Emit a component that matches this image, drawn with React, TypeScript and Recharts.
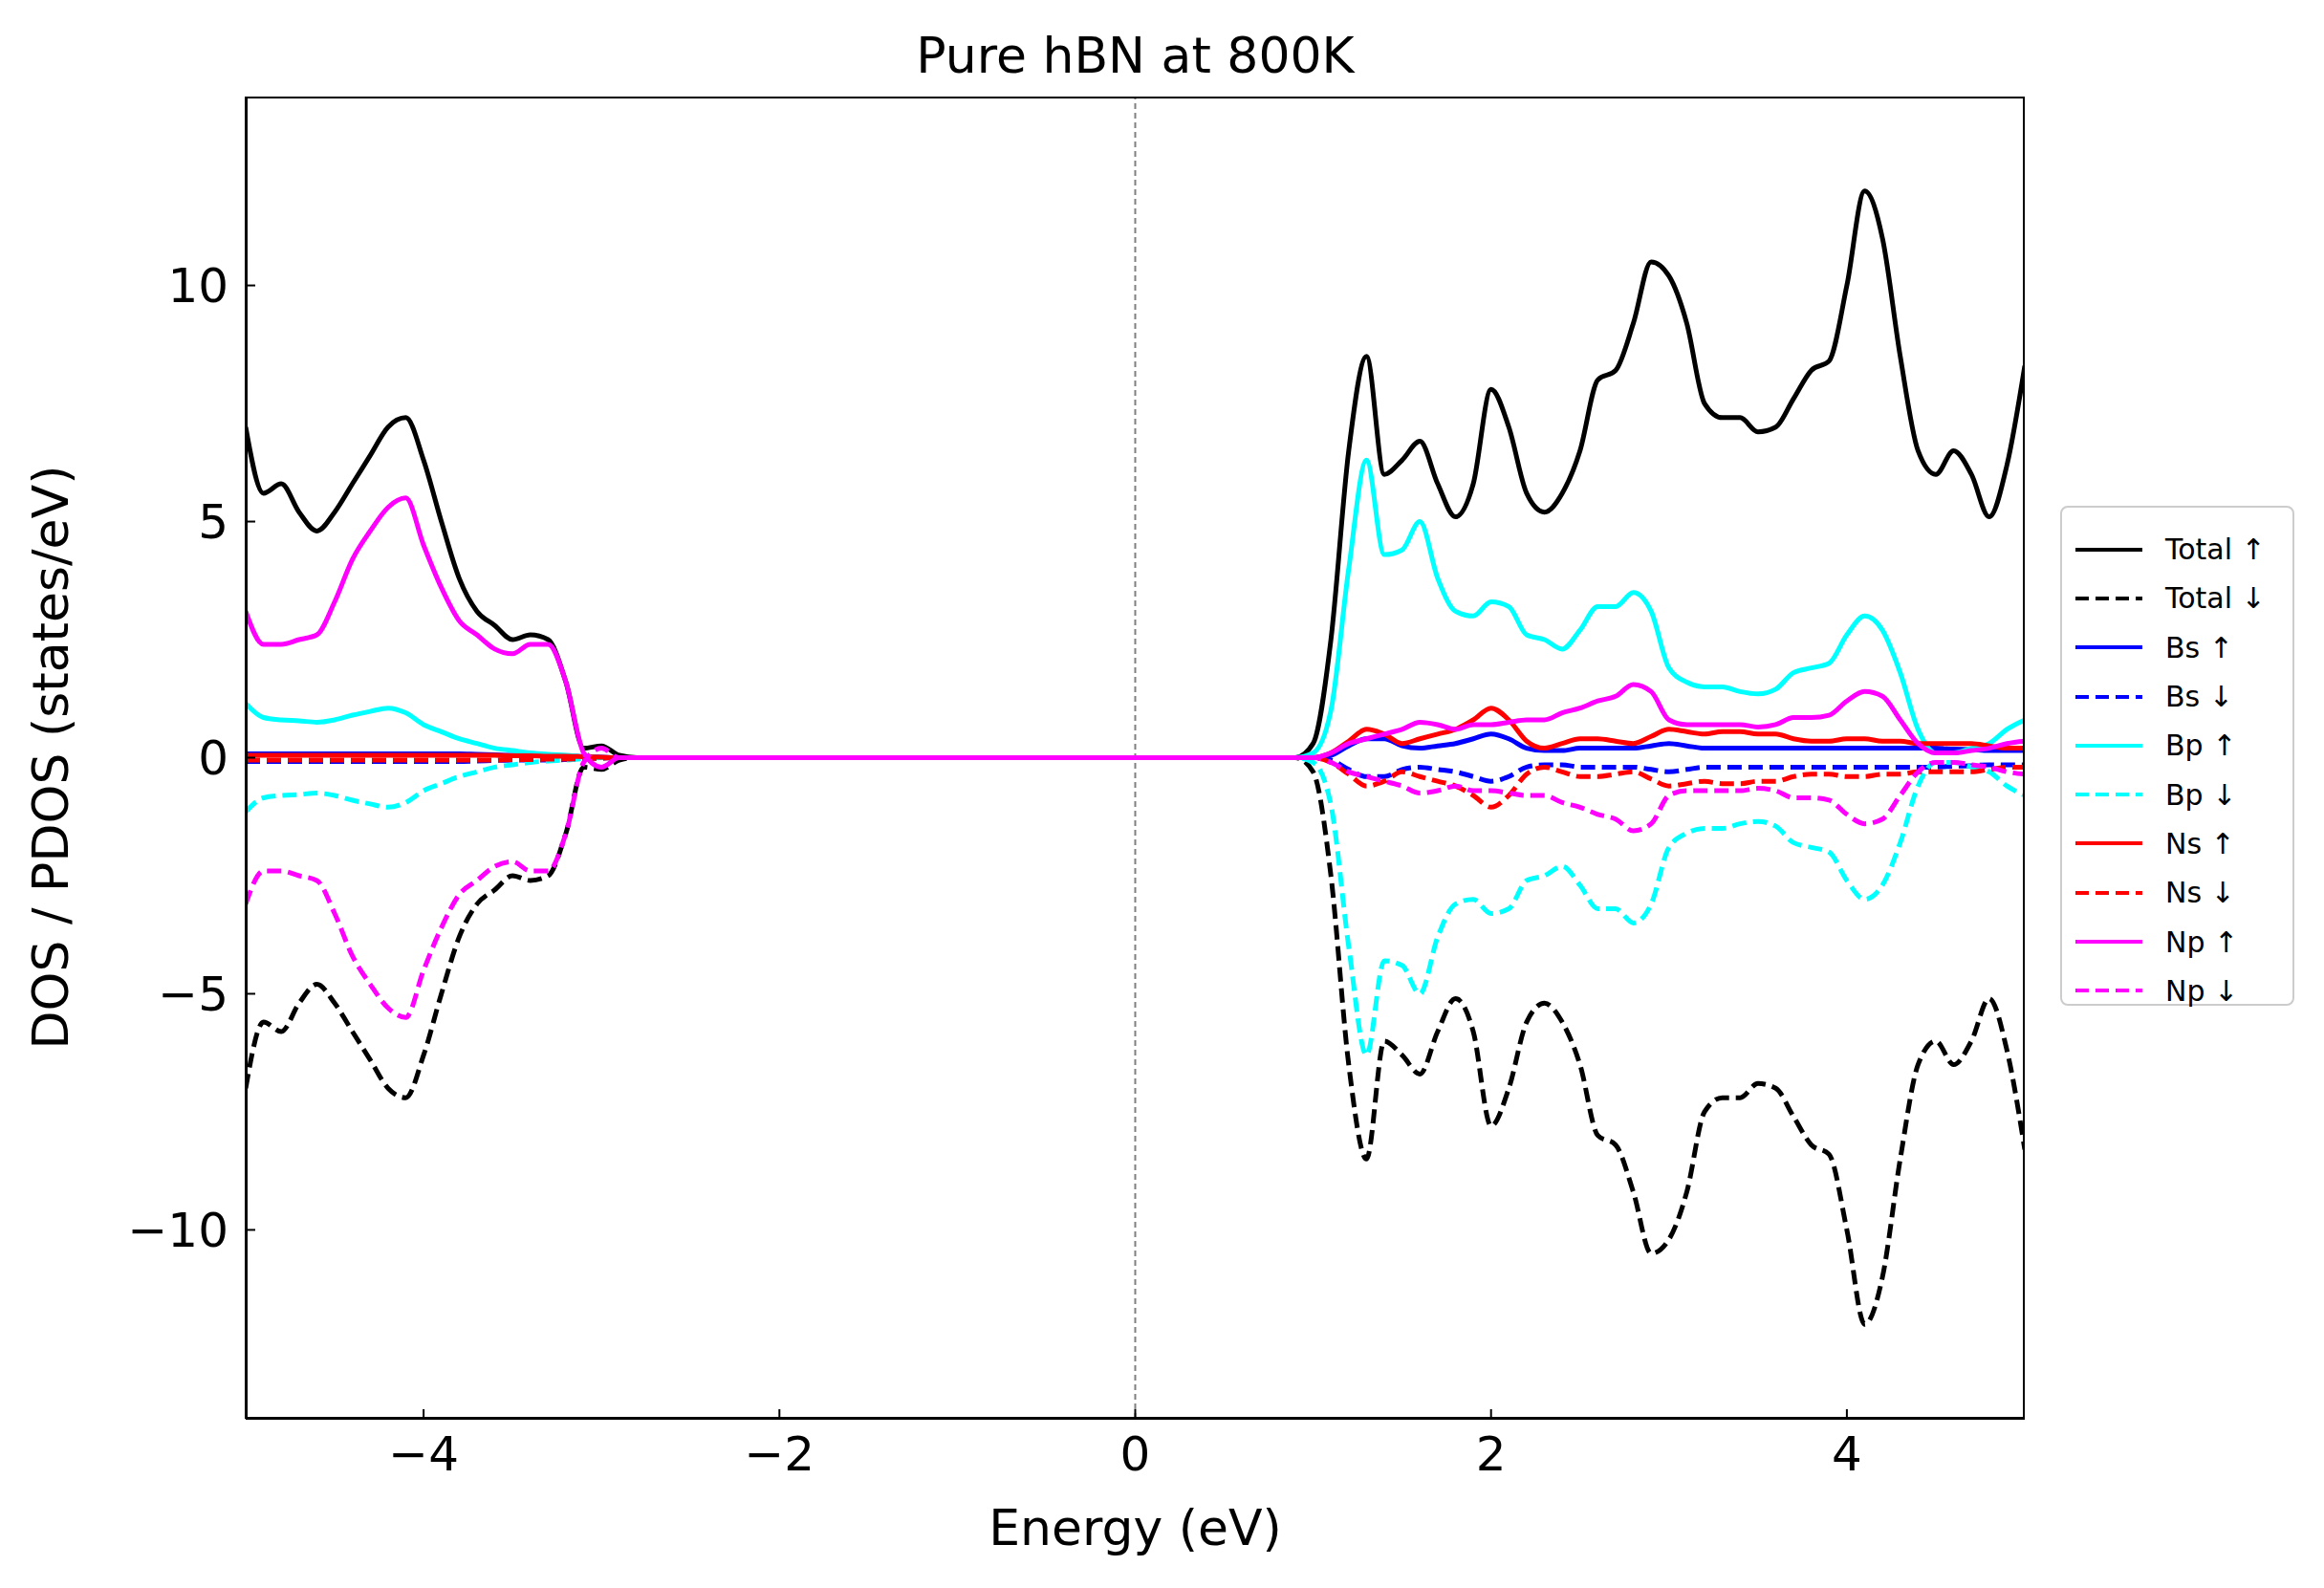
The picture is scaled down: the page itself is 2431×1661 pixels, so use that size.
import { LineChart, Line, XAxis, YAxis, ReferenceLine } from "recharts";

const energy = [
  -5.0, -4.9, -4.8, -4.7, -4.6, -4.5, -4.4, -4.3, -4.2, -4.1, -4.0, -3.9, -3.8, -3.7, -3.6, -3.5,
  -3.4, -3.3, -3.2, -3.1, -3.0, -2.9, -2.8, -2.0, -1.0, 0.0, 0.5, 0.9,
  1.0, 1.1, 1.2, 1.3, 1.4, 1.5, 1.6, 1.7, 1.8, 1.9, 2.0, 2.1, 2.2, 2.3, 2.4, 2.5, 2.6, 2.7, 2.8,
  2.9, 3.0, 3.1, 3.2, 3.3, 3.4, 3.5, 3.6, 3.7, 3.8, 3.9, 4.0, 4.1, 4.2, 4.3, 4.4, 4.5, 4.6, 4.7,
  4.8, 4.9, 5.0,
];

const totalUp = [
  7.0, 5.6, 5.8, 5.2, 4.8, 5.2, 5.8, 6.4, 7.0, 7.2, 6.3, 5.0, 3.8, 3.1, 2.8, 2.5,
  2.6, 2.5, 1.6, 0.2, 0.25, 0.05, 0, 0, 0, 0, 0, 0,
  0.3, 2.5, 6.5, 8.5, 6.0, 6.3, 6.7, 5.8, 5.1, 5.8, 7.8, 7.0, 5.6, 5.2, 5.6, 6.5, 8.0, 8.2, 9.2,
  10.5, 10.2, 9.2, 7.5, 7.2, 7.2, 6.9, 7.0, 7.6, 8.2, 8.4, 10.0, 12.0, 11.0, 8.5, 6.5, 6.0, 6.5, 6.0,
  5.1, 6.2, 8.3,
];

const bsUp = [
  0.08, 0.08, 0.08, 0.08, 0.08, 0.08, 0.08, 0.08, 0.08, 0.08, 0.08, 0.08, 0.08, 0.07, 0.06, 0.05,
  0.05, 0.05, 0.04, 0.02, 0.01, 0, 0, 0, 0, 0, 0, 0,
  0, 0.05, 0.25, 0.4, 0.4, 0.25, 0.2, 0.25, 0.3, 0.4, 0.5, 0.4, 0.2, 0.15, 0.15, 0.2, 0.2, 0.2, 0.2,
  0.25, 0.3, 0.25, 0.2, 0.2, 0.2, 0.2, 0.2, 0.2, 0.2, 0.2, 0.2, 0.2, 0.2, 0.2, 0.2, 0.2, 0.18, 0.17,
  0.15, 0.15, 0.15,
];

const bpUp = [
  1.15, 0.85, 0.8, 0.78, 0.75, 0.8, 0.9, 0.98, 1.05, 0.95, 0.7, 0.55, 0.4, 0.3, 0.2, 0.15,
  0.1, 0.07, 0.05, 0.02, 0, 0, 0, 0, 0, 0, 0, 0,
  0.1, 1.0, 4.0, 6.3, 4.3, 4.4, 5.0, 3.8, 3.1, 3.0, 3.3, 3.2, 2.6, 2.5, 2.3, 2.7, 3.2, 3.2, 3.5,
  3.1, 1.9, 1.6, 1.5, 1.5, 1.4, 1.35, 1.45, 1.8, 1.9, 2.0, 2.6, 3.0, 2.7, 1.8, 0.6, 0.1, 0.1, 0.2,
  0.3, 0.6, 0.8,
];

const nsUp = [
  0.05, 0.05, 0.05, 0.05, 0.05, 0.05, 0.05, 0.05, 0.05, 0.05, 0.05, 0.05, 0.05, 0.05, 0.05, 0.04,
  0.04, 0.03, 0.03, 0.02, 0.01, 0, 0, 0, 0, 0, 0, 0,
  0, 0.1, 0.35, 0.6, 0.5, 0.3, 0.4, 0.5, 0.6, 0.8, 1.05, 0.8, 0.35, 0.2, 0.3, 0.4, 0.4, 0.35, 0.3,
  0.45, 0.6, 0.55, 0.5, 0.55, 0.55, 0.5, 0.5, 0.4, 0.35, 0.35, 0.4, 0.4, 0.35, 0.35, 0.3, 0.3, 0.3, 0.3,
  0.25, 0.2, 0.2,
];

const npUp = [
  3.1, 2.4, 2.4, 2.5, 2.6, 3.3, 4.2, 4.8, 5.3, 5.5, 4.5, 3.6, 2.9, 2.6, 2.3, 2.2,
  2.4, 2.4, 1.6, 0.1, -0.2, 0, 0, 0, 0, 0, 0, 0,
  0, 0.1, 0.3, 0.4, 0.5, 0.6, 0.75, 0.7, 0.6, 0.7, 0.7, 0.75, 0.8, 0.8, 0.95, 1.05, 1.2, 1.3, 1.55,
  1.4, 0.8, 0.7, 0.7, 0.7, 0.7, 0.65, 0.7, 0.85, 0.85, 0.9, 1.2, 1.4, 1.3, 0.8, 0.3, 0.1, 0.1, 0.15,
  0.2, 0.3, 0.35,
];

// spin-down channels are the mirror of spin-up in this plot
const down = (arr: number[]) => arr.map((v) => -v);

const data = energy.map((e, i) => ({
  e,
  totalUp: totalUp[i],
  totalDn: down(totalUp)[i],
  bsUp: bsUp[i],
  bsDn: down(bsUp)[i],
  bpUp: bpUp[i],
  bpDn: down(bpUp)[i],
  nsUp: nsUp[i],
  nsDn: down(nsUp)[i],
  npUp: npUp[i],
  npDn: down(npUp)[i],
}));

const series = [
  { key: "totalUp", name: "Total ↑", color: "#000000", dash: false },
  { key: "totalDn", name: "Total ↓", color: "#000000", dash: true },
  { key: "bsUp", name: "Bs ↑", color: "#0000ff", dash: false },
  { key: "bsDn", name: "Bs ↓", color: "#0000ff", dash: true },
  { key: "bpUp", name: "Bp ↑", color: "#00ffff", dash: false },
  { key: "bpDn", name: "Bp ↓", color: "#00ffff", dash: true },
  { key: "nsUp", name: "Ns ↑", color: "#ff0000", dash: false },
  { key: "nsDn", name: "Ns ↓", color: "#ff0000", dash: true },
  { key: "npUp", name: "Np ↑", color: "#ff00ff", dash: false },
  { key: "npDn", name: "Np ↓", color: "#ff00ff", dash: true },
];

const xTicks = [-4, -2, 0, 2, 4];
const yTicks = [-10, -5, 0, 5, 10];
const font = "'DejaVu Sans', sans-serif";
const fmt = (v: number) => String(v).replace("-", "\u2212");

const App = () => {
  return (
    <div style={{ position: "relative", width: 2415, height: 1645, fontFamily: font, background: "#fff" }}>
      <LineChart
        width={2415}
        height={1645}
        data={data}
        margin={{ top: 93, right: 305, bottom: 79, left: 99 }}
      >
        <XAxis
          dataKey="e"
          type="number"
          domain={[-5, 5]}
          ticks={xTicks}
          allowDataOverflow
          height={90}
          tickFormatter={fmt}
          tick={{ fontSize: 50, fill: "#000", fontFamily: font }}
          tickSize={-10}
          tickMargin={28}
          stroke="#000"
          strokeWidth={2}
        />
        <YAxis
          type="number"
          domain={[-14, 14]}
          ticks={yTicks}
          allowDataOverflow
          width={150}
          tickFormatter={fmt}
          tick={{ fontSize: 50, fill: "#000", fontFamily: font }}
          tickSize={-10}
          tickMargin={28}
          stroke="#000"
          strokeWidth={2}
        />
        <ReferenceLine x={0} stroke="#808080" strokeDasharray="6 4" strokeWidth={2} />
        {series.map((s) => (
          <Line
            key={s.key}
            dataKey={s.key}
            type="monotone"
            stroke={s.color}
            strokeWidth={5}
            strokeDasharray={s.dash ? "15 7" : undefined}
            dot={false}
            isAnimationActive={false}
          />
        ))}
      </LineChart>
      <div
        style={{
          position: "absolute", left: 249, top: 93, width: 1861, height: 1383,
          border: "2px solid #000", boxSizing: "border-box", pointerEvents: "none",
        }}
      />
      <div style={{ position: "absolute", left: 249, width: 1861, top: 20, textAlign: "center", fontSize: 52 }}>
        Pure hBN at 800K
      </div>
      <div style={{ position: "absolute", left: 249, width: 1861, top: 1560, textAlign: "center", fontSize: 52 }}>
        Energy (eV)
      </div>
      <div style={{ position: "absolute", left: 45, top: 784, width: 0, height: 0 }}>
        <div style={{ position: "absolute", transform: "translate(-50%, -50%) rotate(-90deg)", whiteSpace: "nowrap", fontSize: 52 }}>
          DOS / PDOS (states/eV)
        </div>
      </div>
      <div
        style={{
          position: "absolute", left: 2147, top: 521, width: 245, height: 523,
          border: "2px solid #ccc", borderRadius: 8, boxSizing: "border-box", padding: "18px 14px",
          background: "#fff",
        }}
      >
        {series.map((s) => (
          <div key={s.key} style={{ display: "flex", alignItems: "center", height: 51.3, fontSize: 30 }}>
            <svg width={70} height={10} style={{ marginRight: 24 }}>
              <line x1={0} y1={5} x2={70} y2={5} stroke={s.color} strokeWidth={4} strokeDasharray={s.dash ? "14 7" : undefined} />
            </svg>
            {s.name}
          </div>
        ))}
      </div>
    </div>
  );
};

export default App;
